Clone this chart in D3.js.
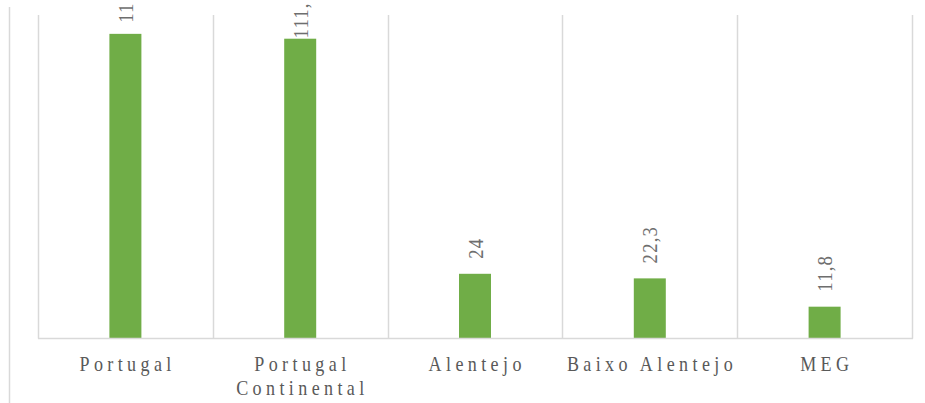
<!DOCTYPE html>
<html>
<head>
<meta charset="utf-8">
<script src="https://cdn.jsdelivr.net/npm/d3@7"></script>
<style>
  html, body { margin: 0; padding: 0; background: #ffffff; }
  svg { display: block; }
</style>
</head>
<body>
<svg id="chart" width="925" height="403"></svg>
<script>
// ---- data ----
const categories = [["Portugal"], ["Portugal", "Continental"], ["Alentejo"], ["Baixo Alentejo"], ["MEG"]];
const values = [113, 111.2, 24, 22.3, 11.8];
const yMax = 120;

// ---- layout ----
const W = 925, H = 403;
const frameTop = 7;
const labelClipTop = 4;
const plot = { left: 38, right: 912, top: 15, base: 338.5 };
const pxPerUnit = 2.696;
const svg = d3.select("#chart");
const fontFam = "Liberation Serif, Times New Roman, serif";
const catColor = "#595959";
const valColor = "#6e6e6e";
const gridColor = "#d9d9d9";

svg.append("defs").append("clipPath").attr("id", "frameClip")
  .append("rect").attr("x", 0).attr("y", labelClipTop).attr("width", W).attr("height", H - labelClipTop);

const x = d3.scaleBand()
  .domain(d3.range(categories.length))
  .range([plot.left, plot.right])
  .paddingInner(0).paddingOuter(0);

const y = d3.scaleLinear()
  .domain([0, yMax])
  .range([plot.base, plot.base - yMax * pxPerUnit]);

// outer left border
svg.append("line")
  .attr("x1", 9.5).attr("x2", 9.5).attr("y1", frameTop).attr("y2", H)
  .attr("stroke", gridColor).attr("stroke-width", 1.5);

// vertical category gridlines
const bounds = d3.range(categories.length + 1).map(i => i < categories.length ? x(i) : plot.right);
svg.selectAll("line.vgrid").data(bounds).join("line")
  .attr("class", "vgrid")
  .attr("x1", d => Math.round(d) + 0.5).attr("x2", d => Math.round(d) + 0.5)
  .attr("y1", plot.top).attr("y2", plot.base)
  .attr("stroke", gridColor).attr("stroke-width", 1.5);

// bars
const barW = 32;
svg.selectAll("rect.bar").data(values).join("rect")
  .attr("class", "bar")
  .attr("x", (d, i) => x(i) + x.bandwidth() / 2 - barW / 2)
  .attr("width", barW)
  .attr("y", d => y(d))
  .attr("height", d => y(0) - y(d))
  .attr("fill", "#70AD47");

// baseline axis
svg.append("line")
  .attr("x1", plot.left).attr("x2", plot.right + 1)
  .attr("y1", plot.base).attr("y2", plot.base)
  .attr("stroke", gridColor).attr("stroke-width", 1.5);

// value labels (rotated, slightly condensed), clipped to the chart frame
const fmt = v => String(v).replace(".", ",");
const vScale = 0.85, vLS = 1.4, vFont = 22;
const labelLayer = svg.append("g").attr("clip-path", "url(#frameClip)");
const vl = labelLayer.selectAll("g.vlabel").data(values).join("g").attr("class", "vlabel");
vl.each(function(d, i) {
  const g = d3.select(this);
  const t = g.append("text")
    .text(fmt(d))
    .attr("font-family", fontFam)
    .attr("font-size", vFont)
    .attr("letter-spacing", vLS)
    .attr("fill", valColor)
    .attr("text-anchor", "start");
  const len = t.node().getComputedTextLength() * vScale - vLS * vScale;
  const areaTop = -7;
  let bottom = y(d) - 15;
  if (bottom - len < areaTop) bottom = areaTop + len;
  const cx = x(i) + x.bandwidth() / 2 + 7.5;
  g.attr("transform", `translate(${cx},${bottom}) rotate(-90) scale(${vScale},1)`);
});

// category labels (slightly condensed, letter-spaced)
const cScale = 0.88, cLS = 5.0, cFont = 20.5;
const cl = svg.selectAll("g.clabel").data(categories).join("g").attr("class", "clabel");
cl.each(function(lines, i) {
  const g = d3.select(this);
  const cx = x(i) + x.bandwidth() / 2 + cLS * cScale / 2;
  g.attr("transform", `translate(${cx},0) scale(${cScale},1)`);
  lines.forEach((ln, k) => {
    g.append("text")
      .text(ln)
      .attr("x", 0)
      .attr("y", 371 + k * 24.5)
      .attr("font-family", fontFam)
      .attr("font-size", cFont)
      .attr("letter-spacing", cLS)
      .attr("fill", catColor)
      .attr("text-anchor", "middle");
  });
});
</script>
</body>
</html>
